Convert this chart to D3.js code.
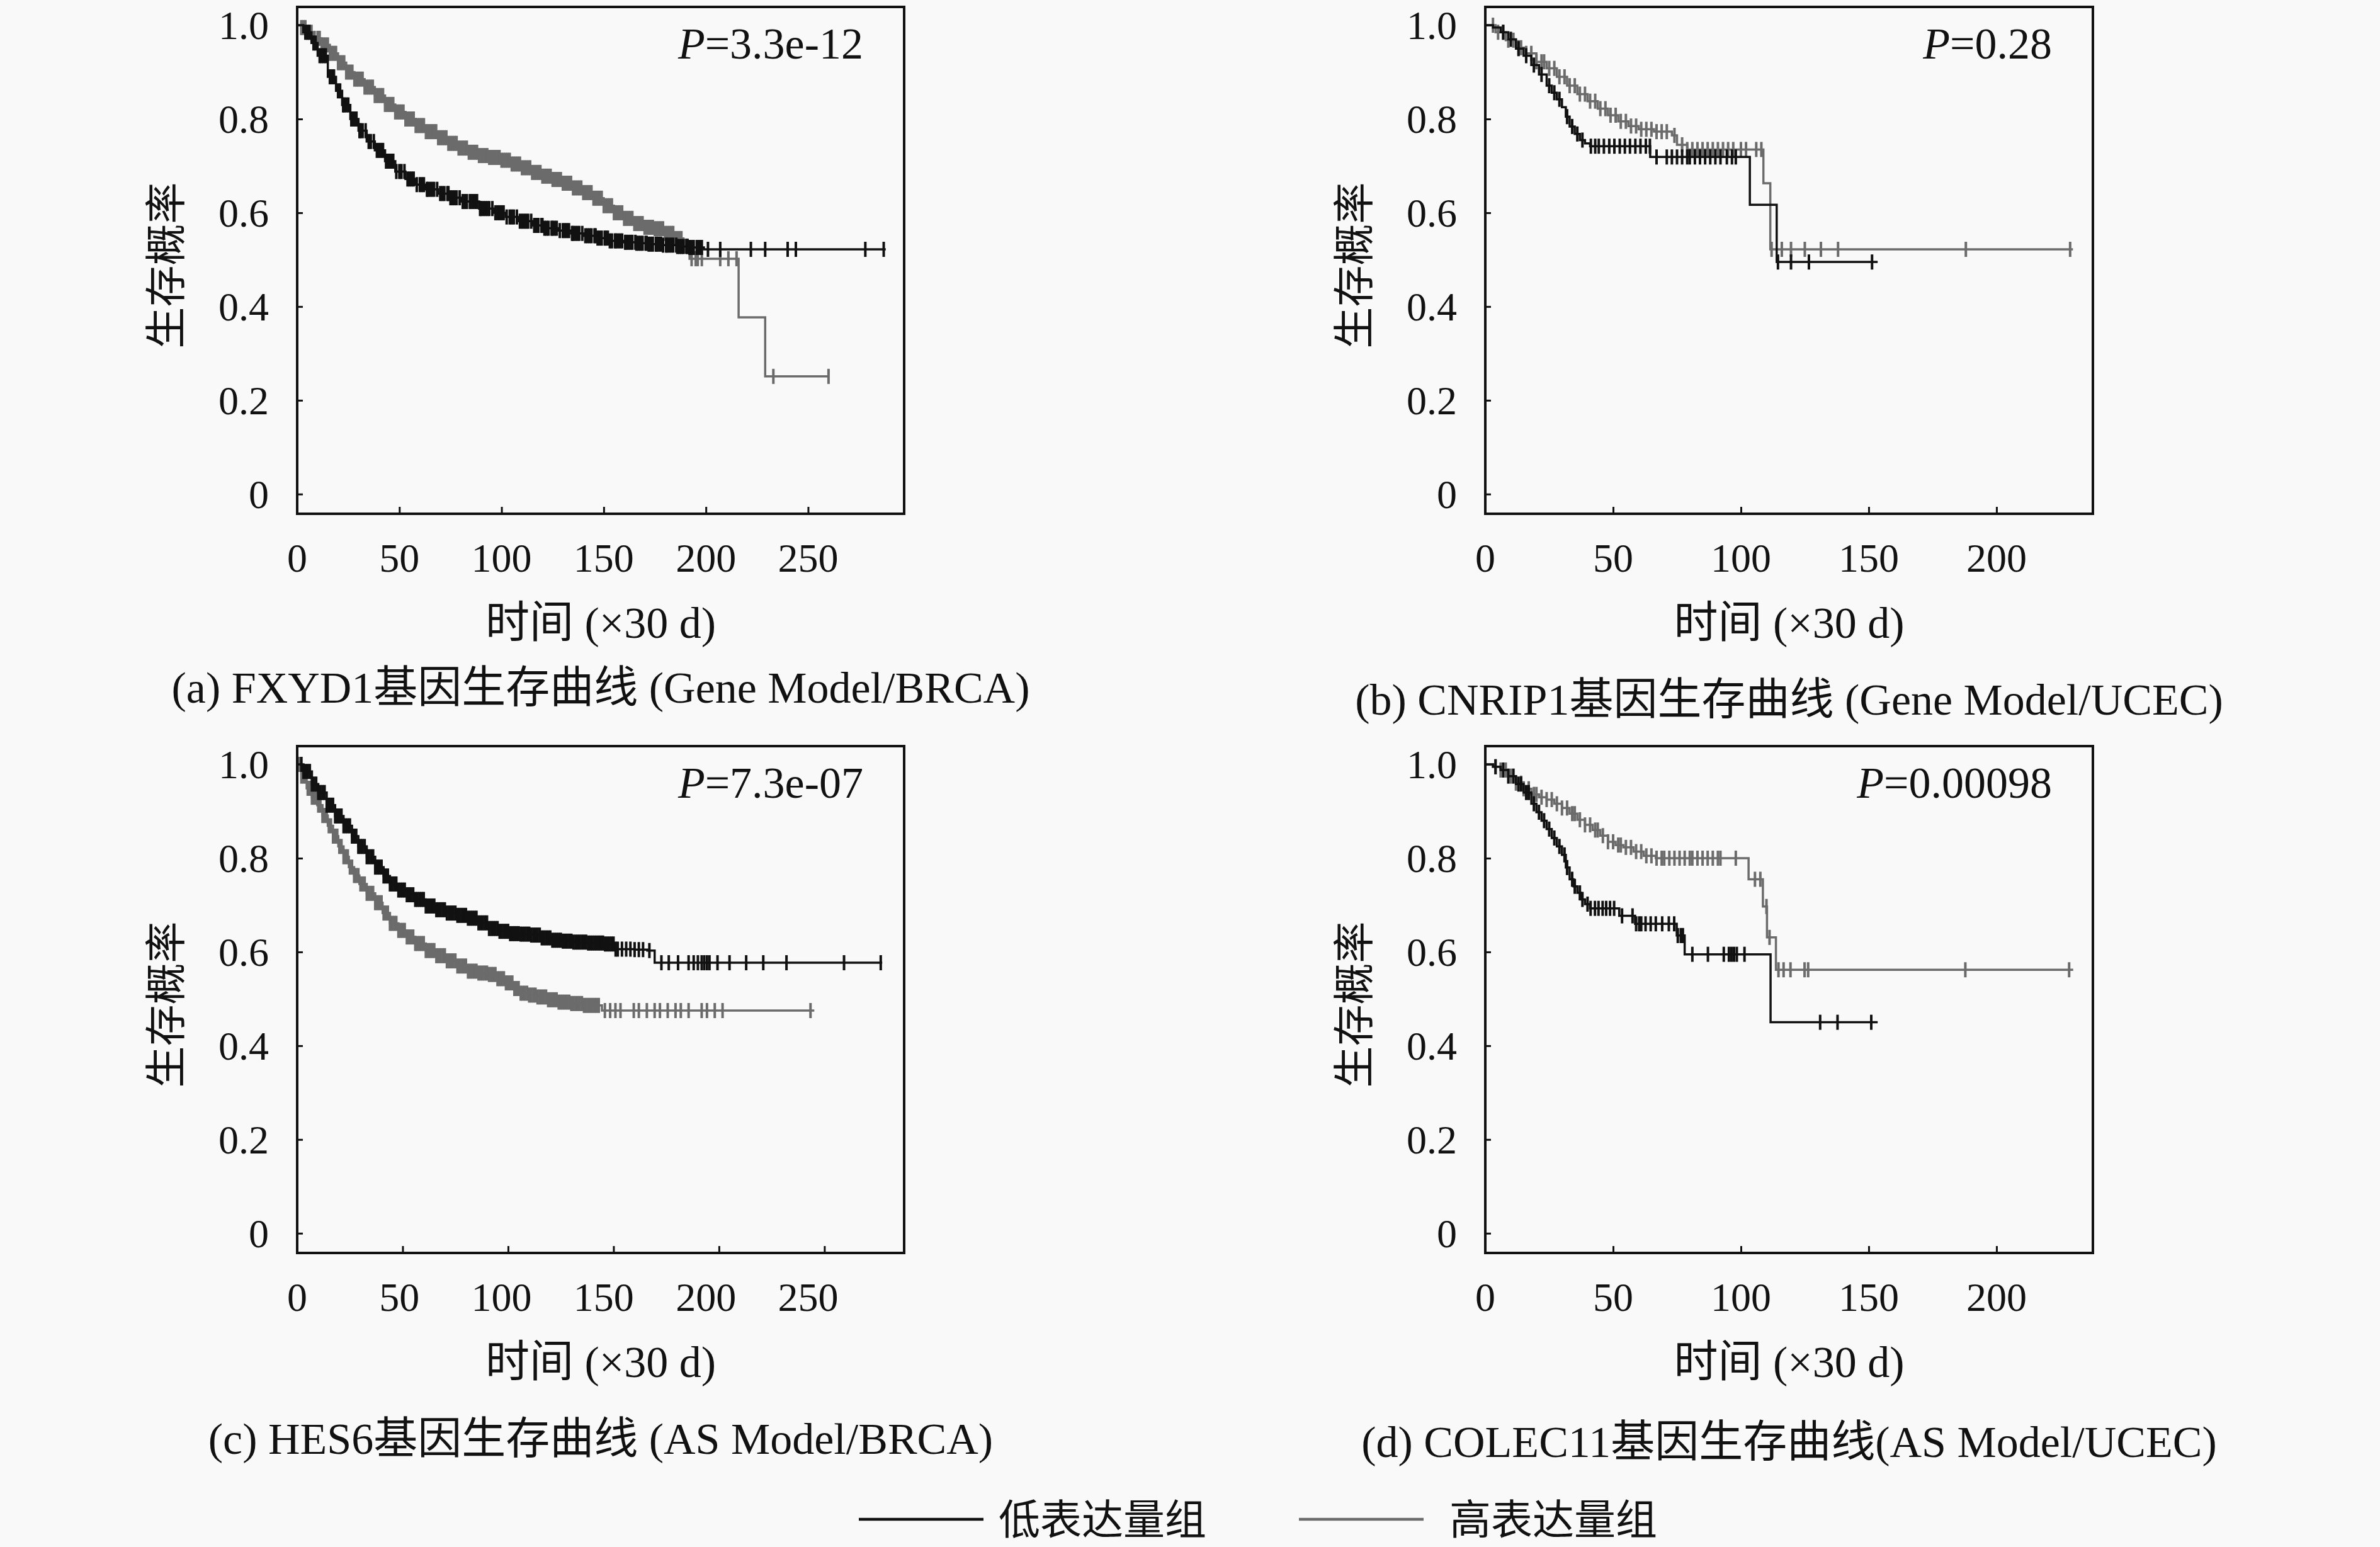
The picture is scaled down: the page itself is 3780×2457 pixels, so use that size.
<!DOCTYPE html>
<html>
<head>
<meta charset="utf-8">
<script src="https://cdn.jsdelivr.net/npm/d3@7/dist/d3.min.js"></script>
<style>
body { margin: 0; background: #f9f9f9; }
text { font-family: "Liberation Serif", "Noto Sans CJK SC", serif; fill: #111; }
</style>
</head>
<body>
<svg id="chart" width="3780" height="2457"></svg>
<script>

// ---- data (time in units of 30 d, survival probability) ----
// (a) FXYD1, Gene Model / BRCA
var aLowT  = [0, 3, 7, 10, 15, 19, 22, 26, 30, 34, 38, 43, 48, 53, 58, 63, 69, 75, 80, 89, 96, 102, 108, 115, 121, 128, 134, 140, 147, 153, 160, 166, 172, 179, 186, 192, 199];
var aLowS  = [1, 0.985, 0.962, 0.935, 0.89, 0.86, 0.83, 0.8, 0.775, 0.752, 0.733, 0.71, 0.688, 0.672, 0.66, 0.65, 0.641, 0.632, 0.624, 0.609, 0.6, 0.591, 0.582, 0.573, 0.567, 0.562, 0.556, 0.551, 0.546, 0.54, 0.537, 0.535, 0.533, 0.531, 0.528, 0.526, 0.522];
var aLowEnd = 288;
var aLowC  = [4,5,6,8,9,11,12,13,14,16,17,18,20,21,22.5,23,24,25,26.5,27,28,29,30.5,31,32,33.5,35,36,37.5,39,40,41,42,43.5,44,45,46,47,48.5,50,51,52.5,54,55,56,57,58.5,60,61,62,63.5,64,65,66,67,68.5,70,71,72,73.5,74,75,76,77,78,79.5,81,82,83,84.5,85,86,87,88,89.5,90,91,92,93,94,95.5,97,98,99,100,101,102.5,104,105,106,107.5,109,110,111,112,113,114.5,116,117,118,119.5,120,121,122,123,124.5,125,126,127,128.5,130,131,132,133,134.5,135,136,137,138,139.5,141,142,143,144,145.5,146,147,148,149,150.5,151,152,153,154,155.5,156,157,158,159,160.5,161,162,163,164,165.5,166,167,168,169,170.5,171,172,173,174,175.5,176,177,178,179,180.5,181,182,183,184,185.5,186,187,188,189,190.5,191,192,193,194,195.5,196,197,198,201,207,222,229,240,244,278,287];
var aHighT = [0, 2, 5, 8, 12, 16, 20, 24, 28, 33, 38, 43, 48, 53, 58, 63, 69, 74, 79, 84, 89, 94, 100, 105, 110, 115, 120, 125, 130, 135, 140, 145, 150, 155, 160, 165, 170, 175, 180, 185, 189, 192, 216, 229];
var aHighS = [1, 0.995, 0.985, 0.972, 0.958, 0.94, 0.92, 0.9, 0.885, 0.868, 0.85, 0.831, 0.815, 0.8, 0.786, 0.773, 0.76, 0.748, 0.738, 0.729, 0.722, 0.718, 0.712, 0.704, 0.696, 0.686, 0.678, 0.671, 0.663, 0.653, 0.643, 0.631, 0.615, 0.6, 0.588, 0.577, 0.569, 0.566, 0.556, 0.545, 0.529, 0.502, 0.377, 0.251];
var aHighEnd = 260;
var aHighC = [2,3,4,5,6,7,8.5,10,11,12,13,14,15,16,17,18,19,20,21,22,23,24,25,26,27,28,29,30,31,32,33,34,35,36,37,38,39,40,41,42,43,44,45,46,47,48,49,50,51,52,53,54,55,56,57,58,59,60,61,62,63,64,65,66,67,68,69,70,71,72,73,74,75,76,77,78,79,80,81,82,83,84,85,86,87,88,89,90,91,92,93,94,95,96,97,98,99,100,101,102,103,104,105,106,107,108,109,110,111,112,113,114,115,116,117,118,119,120,121,122,123,124,125,126,127,128,129,130,131,132,133,134,135,136,137,138,139,140,141,142,143,144,145,146,147,148,149,150,151,152,153,154,155,156,157,158,159,160,161,162,163,164,165,166,167,168,169,170,171,172,173,174,175,176,177,178,179,180,181,182,183,184,185,186,187,188,189,190,191,193,195,196,198,207,211,215,233,260];

// (b) CNRIP1, Gene Model / UCEC
var bLowT  = [0, 3, 6, 9, 12, 15, 18, 21, 24, 26, 28, 30, 31.5, 33, 35, 37, 39, 41, 64.5, 103.5, 114];
var bLowS  = [1, 0.995, 0.985, 0.97, 0.95, 0.935, 0.915, 0.895, 0.871, 0.856, 0.842, 0.825, 0.805, 0.784, 0.768, 0.755, 0.748, 0.742, 0.719, 0.617, 0.495];
var bLowEnd = 153.5;
var bLowC  = [7,10,13,16,19,22,25,27,29,32,34,36,38,41.3,43,44.4,46.4,48.5,50.5,52.6,54.6,56.6,58.7,60.7,62.8,64.4,67,71,73,75,77,79,80,82,84,86,88,90,92,94.5,96.5,98,114.5,119.6,126.6,151.3];
var bHighT = [0, 4, 8, 12, 16, 20, 24, 28, 32, 36, 40, 44, 48, 52, 56, 60, 66, 73, 75, 79, 108.8, 111.5];
var bHighS = [1, 0.985, 0.968, 0.952, 0.94, 0.922, 0.908, 0.89, 0.871, 0.853, 0.838, 0.822, 0.808, 0.795, 0.785, 0.778, 0.773, 0.765, 0.745, 0.735, 0.663, 0.522];
var bHighEnd = 229.9;
var bHighC = [3,5,7,9,11,13,14,16,18,20,22,23,25,27,29,31,33,35,37,39,41,43,45,47,49,51,53,55,57,59,61,63,65,67,69,71,74,77,79,81,83,85,87,89,91,93,95,97,100,102,106,108,112,116,119.6,125,131.3,138,188,228.8];

// (c) HES6, AS Model / BRCA
var cLowT  = [0, 3, 7, 10, 14, 18, 22, 26, 29, 33, 37, 41, 44, 48, 52, 56, 61, 66, 71, 76, 81, 86, 91, 96, 101, 106, 111, 116, 121, 126, 131, 138, 146, 151, 160, 166, 169.5];
var cLowS  = [1, 0.985, 0.958, 0.94, 0.913, 0.89, 0.869, 0.847, 0.825, 0.803, 0.781, 0.762, 0.745, 0.732, 0.722, 0.712, 0.698, 0.69, 0.683, 0.678, 0.672, 0.662, 0.65, 0.644, 0.639, 0.638, 0.636, 0.63, 0.625, 0.623, 0.621, 0.619, 0.617, 0.606, 0.605, 0.603, 0.577];
var cLowEnd = 277.4;
var cLowC  = [2,3,4,5,6,7,8,9,10,11,12,13,14,15,16,17,18,19,20,21,22,23,24,25,26,27,28,29,30,31,32,33,34,35,36,37,38,39,40,41,42,43,44,45,46,47,48,49,50,51,52,53,54,55,56,57,58,59,60,61,62,63,64,65,66,67,68,69,70,71,72,73,74,75,76,77,78,79,80,81,82,83,84,85,86,87,88,89,90,91,92,93,94,95,96,97,98,99,100,101,102,103,104,105,106,107,108,109,110,111,112,113,114,115,116,117,118,119,120,121,122,123,124,125,126,127,128,129,130,131,132,133,134,135,136,137,138,139,140,141,142,143,144,145,146,147,148,149,150,151,152,154,156,158,160,162,164,167,172.7,176.2,180.6,185.6,188,190,191.8,193,194.3,195.5,199.3,205,212.9,221,232,259.3,276.7];
var cHighT = [0, 2, 4.5, 7, 9.5, 12, 14.5, 17, 19.5, 22, 24.5, 27, 29.5, 33, 37, 40.5, 44, 48, 52, 56, 61, 66, 71, 76, 81, 86, 91, 95, 99, 103, 106, 110, 114, 119, 124, 130, 136, 144.5];
var cHighS = [1, 0.975, 0.949, 0.93, 0.913, 0.891, 0.869, 0.847, 0.825, 0.803, 0.781, 0.763, 0.745, 0.725, 0.705, 0.683, 0.661, 0.646, 0.632, 0.618, 0.603, 0.592, 0.581, 0.57, 0.559, 0.555, 0.552, 0.543, 0.534, 0.522, 0.512, 0.508, 0.504, 0.498, 0.493, 0.49, 0.486, 0.475];
var cHighEnd = 245.2;
var cHighC = [1,2,3,4,5,6,7,8,9,10,11,12,13,14,15,16,17,18,19,20,21,22,23,24,25,26,27,28,29,30,31,32,33,34,35,36,37,38,39,40,41,42,43,44,45,46,47,48,49,50,51,52,53,54,55,56,57,58,59,60,61,62,63,64,65,66,67,68,69,70,71,72,73,74,75,76,77,78,79,80,81,82,83,84,85,86,87,88,89,90,91,92,93,94,95,96,97,98,99,100,101,102,103,104,105,106,107,108,109,110,111,112,113,114,115,116,117,118,119,120,121,122,123,124,125,126,127,128,129,130,131,132,133,134,135,136,137,138,139,140,141,142,143,145.9,148.4,150.9,153.3,159.6,162,165.8,169.5,172,175.7,179.4,181.9,185.6,191.8,194.3,198,201.7,243.4];

// (d) COLEC11, AS Model / UCEC
var dLowT  = [0, 3, 6, 9, 12, 15, 18, 20, 22, 24, 26, 28, 30, 31.5, 33, 34.5, 36, 37.5, 39, 41, 52.4, 58.6, 74.9, 78, 111.6];
var dLowS  = [1, 0.995, 0.988, 0.975, 0.958, 0.94, 0.916, 0.898, 0.88, 0.862, 0.843, 0.825, 0.807, 0.78, 0.755, 0.74, 0.726, 0.712, 0.702, 0.693, 0.677, 0.66, 0.635, 0.595, 0.45];
var dLowEnd = 153.5;
var dLowC  = [4,7,9,11,13,14,16,17,19,21,23,25,27,29,31,32,34,35,37,38,40,41.2,42.9,44.3,45.9,47.3,48.8,50.4,53.5,57.6,59,60.2,61,62.7,64.7,66.7,69.2,71.8,73.9,75.3,76.5,77.3,81,87.1,93.3,95.3,96.3,97.3,98.4,101.4,131,137.8,151];
var dHighT = [0, 3, 6, 9, 12, 15, 18, 21, 24, 27, 30, 33, 36, 39, 42, 45, 48, 51, 54, 58, 62, 66.7, 103, 108.6, 110.2, 113.7];
var dHighS = [1, 0.995, 0.988, 0.975, 0.96, 0.948, 0.936, 0.93, 0.925, 0.916, 0.907, 0.895, 0.882, 0.871, 0.86, 0.848, 0.835, 0.828, 0.823, 0.814, 0.805, 0.8, 0.755, 0.697, 0.631, 0.562];
var dHighEnd = 230;
var dHighC = [4,6,8,10,12,14,15,17,19,20,22,24,26,28,30,32,34,35,37,39,41,43,44,46,48,50,52,53,55,57,59,61,63,65,67,69,70,72,74,76,78,80,81,83,85,87,89,91,92,98,105.5,107.6,110,111.2,114.7,116.7,119.4,124.9,126.3,187.8,228.4];

var yTicks = [0, 0.2, 0.4, 0.6, 0.8, 1.0];
var xTicksBRCA = [0, 50, 100, 150, 200, 250];
var xTicksUCEC = [0, 50, 100, 150, 200];
var pValues = ['3.3e-12', '0.28', '7.3e-07', '0.00098'];
var captions = ['(a) FXYD1基因生存曲线 (Gene Model/BRCA)',
                '(b) CNRIP1基因生存曲线 (Gene Model/UCEC)',
                '(c) HES6基因生存曲线 (AS Model/BRCA)',
                '(d) COLEC11基因生存曲线(AS Model/UCEC)'];
var legendNames = ['低表达量组', '高表达量组'];

var LOW_COLOR = '#111';
var HIGH_COLOR = '#6b6b6b';

// ---- layout ----
var panels = [
  { left: 472,  right: 1436, top: 11,   bottom: 816,  xMax: 297,   labelMax: 297,   ticks: xTicksBRCA, captionY: 1092,
    low: [aLowT, aLowS, aLowEnd, aLowC], high: [aHighT, aHighS, aHighEnd, aHighC] },
  { left: 2359, right: 3324, top: 11,   bottom: 816,  xMax: 237.7, labelMax: 237.7, ticks: xTicksUCEC, captionY: 1111,
    low: [bLowT, bLowS, bLowEnd, bLowC], high: [bHighT, bHighS, bHighEnd, bHighC] },
  { left: 472,  right: 1436, top: 1185, bottom: 1990, xMax: 287.8, labelMax: 297,   ticks: xTicksBRCA, captionY: 2285,
    low: [cLowT, cLowS, cLowEnd, cLowC], high: [cHighT, cHighS, cHighEnd, cHighC] },
  { left: 2359, right: 3324, top: 1185, bottom: 1990, xMax: 237.7, labelMax: 237.7, ticks: xTicksUCEC, captionY: 2290,
    low: [dLowT, dLowS, dLowEnd, dLowC], high: [dHighT, dHighS, dHighEnd, dHighC] }
];

var svg = d3.select('#chart');
svg.append('rect').attr('width', 3780).attr('height', 2457).attr('fill', '#f9f9f9');

function survAt(T, S, t) {
  var i = d3.bisectRight(T, t) - 1;
  return S[Math.max(0, i)];
}

panels.forEach(function(p, k) {
  var x = d3.scaleLinear().domain([0, p.xMax]).range([p.left, p.right]);
  var xl = d3.scaleLinear().domain([0, p.labelMax]).range([p.left, p.right]);
  var y = d3.scaleLinear().domain([-0.042, 1.039]).range([p.bottom, p.top]);
  var g = svg.append('g');

  // inner ticks
  g.append('g')
    .attr('transform', 'translate(0,' + p.bottom + ')')
    .call(d3.axisTop(x).tickValues(p.ticks.slice(1)).tickSize(11).tickFormat(''))
    .call(function(a) { a.select('.domain').remove(); a.selectAll('line').attr('stroke', '#111').attr('stroke-width', 3); });
  g.append('g')
    .attr('transform', 'translate(' + p.left + ',0)')
    .call(d3.axisRight(y).tickValues(yTicks).tickSize(9).tickFormat(''))
    .call(function(a) { a.select('.domain').remove(); a.selectAll('line').attr('stroke', '#111').attr('stroke-width', 3); });

  // tick labels
  g.selectAll('.xl').data(p.ticks).enter().append('text')
    .attr('x', function(d) { return xl(d); })
    .attr('y', p.bottom + 92)
    .attr('text-anchor', 'middle')
    .attr('font-size', 64)
    .text(function(d) { return d; });
  g.selectAll('.yl').data(yTicks).enter().append('text')
    .attr('x', p.left - 45)
    .attr('y', function(d) { return y(d) + 22; })
    .attr('text-anchor', 'end')
    .attr('font-size', 64)
    .text(function(d) { return d === 0 ? '0' : d3.format('.1f')(d); });

  // curves
  [[p.high, HIGH_COLOR], [p.low, LOW_COLOR]].forEach(function(c) {
    var T = c[0][0], S = c[0][1], end = c[0][2], C = c[0][3];
    var pts = T.map(function(t, i) { return [t, S[i]]; });
    pts.push([end, S[S.length - 1]]);
    var line = d3.line()
      .x(function(d) { return x(d[0]); })
      .y(function(d) { return y(d[1]); })
      .curve(d3.curveStepAfter);
    g.append('path').datum(pts)
      .attr('d', line)
      .attr('fill', 'none')
      .attr('stroke', c[1])
      .attr('stroke-width', 3.5);
    g.selectAll(null).data(C).enter().append('line')
      .attr('x1', function(d) { return x(d); })
      .attr('x2', function(d) { return x(d); })
      .attr('y1', function(d) { return y(survAt(T, S, d)) - 12; })
      .attr('y2', function(d) { return y(survAt(T, S, d)) + 12; })
      .attr('stroke', c[1])
      .attr('stroke-width', 4);
  });

  // frame
  g.append('rect')
    .attr('x', p.left).attr('y', p.top)
    .attr('width', p.right - p.left).attr('height', p.bottom - p.top)
    .attr('fill', 'none').attr('stroke', '#111').attr('stroke-width', 4);

  // P value
  var pt = g.append('text')
    .attr('x', p.right - 65)
    .attr('y', p.top + 82)
    .attr('text-anchor', 'end')
    .attr('font-size', 70);
  pt.append('tspan').attr('font-style', 'italic').text('P');
  pt.append('tspan').text('=' + pValues[k]);

  // axis titles
  g.append('text')
    .attr('transform', 'translate(' + (p.left - 185) + ',' + ((p.top + p.bottom) / 2 + 8) + ') rotate(-90)')
    .attr('text-anchor', 'middle')
    .attr('font-size', 66)
    .text('生存概率');
  g.append('text')
    .attr('x', (p.left + p.right) / 2)
    .attr('y', p.bottom + 197)
    .attr('text-anchor', 'middle')
    .attr('font-size', 70)
    .text('时间 (×30 d)');

  // caption
  g.append('text')
    .attr('x', (p.left + p.right) / 2)
    .attr('y', p.captionY + 24)
    .attr('text-anchor', 'middle')
    .attr('font-size', 70)
    .text(captions[k]);
});

// legend
var legend = svg.append('g');
var legX = [1364, 2063];
[LOW_COLOR, HIGH_COLOR].forEach(function(col, i) {
  legend.append('line')
    .attr('x1', legX[i]).attr('x2', legX[i] + 198)
    .attr('y1', 2413).attr('y2', 2413)
    .attr('stroke', col).attr('stroke-width', 4.5);
  legend.append('text')
    .attr('x', legX[i] + 222 + (i === 1 ? 17 : 0))
    .attr('y', 2437)
    .attr('font-size', 66)
    .text(legendNames[i]);
});

</script>
</body>
</html>
